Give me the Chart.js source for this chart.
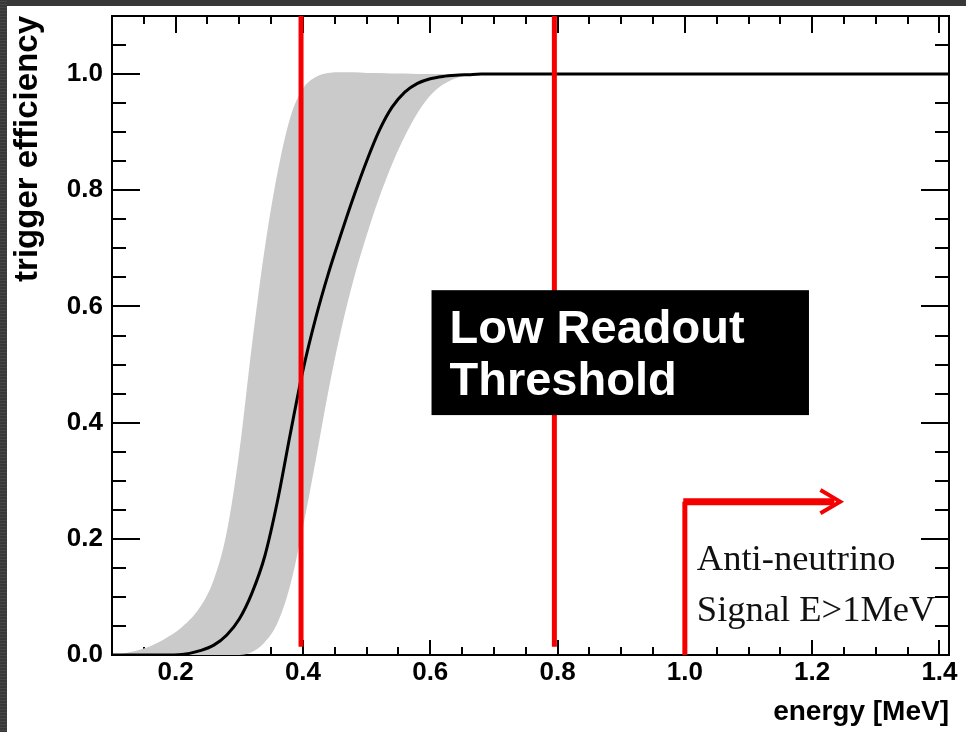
<!DOCTYPE html>
<html>
<head>
<meta charset="utf-8">
<script src="https://cdn.jsdelivr.net/npm/chart.js@4.4.1/dist/chart.umd.min.js"></script>
<style>
  html, body { margin: 0; padding: 0; background: #fff; }
  canvas { display: block; }
</style>
</head>
<body>
<canvas id="c" width="966" height="732"></canvas>
<script>
// Energy grid (MeV) shared by the efficiency curve and its uncertainty band
const energy = [0.10, 0.12, 0.15, 0.18, 0.21, 0.24, 0.26, 0.28, 0.30, 0.32,
                0.34, 0.36, 0.38, 0.40, 0.42, 0.44, 0.46, 0.48, 0.50, 0.52,
                0.54, 0.56, 0.58, 0.60, 0.62, 0.64, 0.66, 0.68, 0.70, 0.80,
                1.00, 1.20, 1.40, 1.42];

// Central trigger efficiency
const efficiency = [0, 0, 0, 0, 0.001, 0.008, 0.017, 0.034, 0.062, 0.107,
                    0.170, 0.265, 0.380, 0.490, 0.580, 0.657, 0.725, 0.790, 0.850, 0.903,
                    0.943, 0.969, 0.984, 0.992, 0.996, 0.998, 0.999, 1, 1, 1,
                    1, 1, 1, 1];

// Upper edge of the uncertainty band
const bandHigh = [0, 0.003, 0.011, 0.026, 0.048, 0.085, 0.130, 0.210, 0.350, 0.535,
                  0.700, 0.830, 0.925, 0.975, 0.995, 1.002, 1.003, 1.003, 1.002, 1.002,
                  1.001, 1.001, 1.0, 1.0, 1.0, 1.0, 1.0, 1.0, 1.0, 1.0,
                  1.0, 1.0, 1.0, 1.0];

// Lower edge of the uncertainty band
const bandLow = [0, 0, 0, 0, 0, 0, 0, 0, 0, 0.005,
                 0.022, 0.055, 0.120, 0.220, 0.335, 0.455, 0.560, 0.648, 0.722, 0.788,
                 0.845, 0.893, 0.933, 0.963, 0.982, 0.993, 0.998, 1.0, 1.0, 1.0,
                 1.0, 1.0, 1.0, 1.0];

// Axis tick labels
const xTicks = [0.2, 0.4, 0.6, 0.8, 1.0, 1.2, 1.4];
const yTicks = [0.0, 0.2, 0.4, 0.6, 0.8, 1.0];

// Readout thresholds (MeV) and the anti-neutrino signal window
const readoutThresholds = [0.397, 0.795];
const signalThreshold = 1.0;
const signalArrowEnd = 1.244;
const signalArrowLevel = 0.264;

const FONT = "'Liberation Sans', Arial, Helvetica, sans-serif";
const SERIF = "'Liberation Serif', 'Times New Roman', Times, serif";
const RED = 'rgb(245,0,0)';
const X_MIN = 0.1, X_MAX = 1.415, Y_MIN = 0, Y_MAX = 1.1;

const pts = (ys) => energy.map((e, i) => ({ x: e, y: ys[i] }));

const datasets = [
  { // band lower edge (fill target)
    data: pts(bandLow), borderWidth: 0, pointRadius: 0, fill: false,
    cubicInterpolationMode: 'monotone', order: 20
  },
  { // band upper edge, filled down to the lower edge
    data: pts(bandHigh), borderWidth: 0, pointRadius: 0, fill: '-1',
    backgroundColor: 'rgb(202,202,202)', cubicInterpolationMode: 'monotone', order: 19
  },
  { // efficiency curve
    data: pts(efficiency), borderColor: '#000', borderWidth: 3, pointRadius: 0,
    fill: false, cubicInterpolationMode: 'monotone', order: 10
  }
];

readoutThresholds.forEach(t => {
  datasets.push({
    data: [{ x: t, y: Y_MAX }, { x: t, y: 0.014 }],
    borderColor: RED, borderWidth: 5, pointRadius: 0, fill: false, order: 5
  });
});

// signal marker: vertical stem, horizontal shaft and open arrow head
datasets.push({
  data: [{ x: signalThreshold, y: 0 }, { x: signalThreshold, y: signalArrowLevel }],
  borderColor: RED, borderWidth: 5, pointRadius: 0, fill: false, order: 5
});
datasets.push({
  data: [{ x: signalThreshold - 0.0025, y: signalArrowLevel }, { x: signalArrowEnd - 0.009, y: signalArrowLevel }],
  borderColor: RED, borderWidth: 7, pointRadius: 0, fill: false, order: 5
});
datasets.push({
  data: [{ x: signalArrowEnd - 0.031, y: signalArrowLevel + 0.020 },
         { x: signalArrowEnd, y: signalArrowLevel },
         { x: signalArrowEnd - 0.031, y: signalArrowLevel - 0.020 }],
  borderColor: RED, borderWidth: 4, pointRadius: 0, fill: false, order: 5
});

// page background with the dark outer strips
const backdrop = {
  id: 'backdrop',
  beforeDraw(chart) {
    const { ctx, width, height } = chart;
    ctx.save();
    ctx.fillStyle = '#fff';
    ctx.fillRect(0, 0, width, height);
    ctx.fillStyle = '#383838';
    ctx.fillRect(0, 0, width, 6);
    ctx.fillRect(0, 0, 7, height);
    ctx.fillStyle = '#474747';
    for (let yy = 1; yy < height; yy += 3) ctx.fillRect(0, yy, 7, 1);
    ctx.restore();
  }
};

// frame with inward major/minor ticks on all four sides
const frameTicks = {
  id: 'frameTicks',
  beforeDatasetsDraw(chart) {
    const { ctx, chartArea: a, scales: { x, y } } = chart;
    ctx.save();
    ctx.strokeStyle = '#000';
    ctx.lineWidth = 2;
    ctx.beginPath();
    const xStep = xTicks[1] - xTicks[0];
    for (let k = -4; k <= xTicks.length * 4; k++) {
      const v = xTicks[0] + k * xStep / 4;
      if (v < X_MIN - 1e-9 || v > X_MAX + 1e-9) continue;
      const px = Math.round(x.getPixelForValue(v));
      const major = k % 4 === 0;
      const lb = major ? 15 : 8, lt = major ? 17 : 8;
      ctx.moveTo(px, a.bottom); ctx.lineTo(px, a.bottom - lb);
      ctx.moveTo(px, a.top); ctx.lineTo(px, a.top + lt);
    }
    const yStep = yTicks[1] - yTicks[0];
    for (let k = 0; k <= (yTicks.length + 1) * 4; k++) {
      const v = yTicks[0] + k * yStep / 4;
      if (v > Y_MAX + 1e-9) continue;
      const py = Math.round(y.getPixelForValue(v));
      const major = k % 4 === 0;
      const l = major ? 28 : 14;
      ctx.moveTo(a.left, py); ctx.lineTo(a.left + l, py);
      ctx.moveTo(a.right, py); ctx.lineTo(a.right - l, py);
    }
    ctx.stroke();
    ctx.strokeRect(a.left, a.top, a.right - a.left, a.bottom - a.top);
    ctx.restore();
  }
};

// text annotations on top of the plot
const notes = {
  id: 'notes',
  afterDatasetsDraw(chart) {
    const { ctx, scales: { x, y } } = chart;
    ctx.save();
    const bx0 = x.getPixelForValue(0.602), bx1 = x.getPixelForValue(1.195);
    const by0 = y.getPixelForValue(0.628), by1 = y.getPixelForValue(0.413);
    ctx.fillStyle = '#000';
    ctx.fillRect(bx0, by0, bx1 - bx0, by1 - by0);
    ctx.fillStyle = '#fff';
    ctx.font = `bold 47px ${FONT}`;
    ctx.textBaseline = 'alphabetic';
    ctx.textAlign = 'left';
    ctx.fillText('Low Readout', bx0 + 18, by0 + 53);
    ctx.fillText('Threshold', bx0 + 18, by0 + 105);

    ctx.fillStyle = '#111';
    ctx.font = `36.5px ${SERIF}`;
    const tx = x.getPixelForValue(signalThreshold) + 12;
    ctx.fillText('Anti-neutrino', tx, y.getPixelForValue(0.147));
    ctx.fillText('Signal E>1MeV', tx, y.getPixelForValue(0.058));
    ctx.restore();
  }
};

new Chart(document.getElementById('c'), {
  type: 'line',
  data: { datasets },
  options: {
    responsive: false,
    animation: false,
    devicePixelRatio: 1,
    layout: { padding: { left: 0, top: 16, right: 17, bottom: 0 } },
    plugins: { legend: { display: false }, tooltip: { enabled: false } },
    scales: {
      x: {
        type: 'linear', min: X_MIN, max: X_MAX,
        grid: { display: false }, border: { display: false },
        afterBuildTicks(s) { s.ticks = xTicks.map(v => ({ value: v })); },
        afterFit(s) { s.height = 77; s.paddingLeft = 0; s.paddingRight = 0; },
        ticks: {
          padding: -6, color: '#000', maxRotation: 0, autoSkip: false,
          font: { family: FONT, size: 26, weight: 'bold' },
          callback: v => Number(v).toFixed(1)
        },
        title: {
          display: true, text: 'energy [MeV]', align: 'end', color: '#000',
          font: { family: FONT, size: 28, weight: 'bold' },
          padding: { top: 0, bottom: 3 }
        }
      },
      y: {
        type: 'linear', min: Y_MIN, max: Y_MAX,
        grid: { display: false }, border: { display: false },
        afterBuildTicks(s) { s.ticks = yTicks.map(v => ({ value: v })); },
        afterFit(s) { s.width = 112; s.paddingTop = 0; s.paddingBottom = 0; },
        ticks: {
          padding: 1, color: '#000',
          font: { family: FONT, size: 26, weight: 'bold' },
          callback: v => Number(v).toFixed(1)
        },
        title: {
          display: true, text: 'trigger efficiency', align: 'end', color: '#000',
          font: { family: FONT, size: 33, weight: 'bold' },
          padding: { top: 8, bottom: 0 }
        }
      }
    }
  },
  plugins: [backdrop, frameTicks, notes]
});
</script>
</body>
</html>
